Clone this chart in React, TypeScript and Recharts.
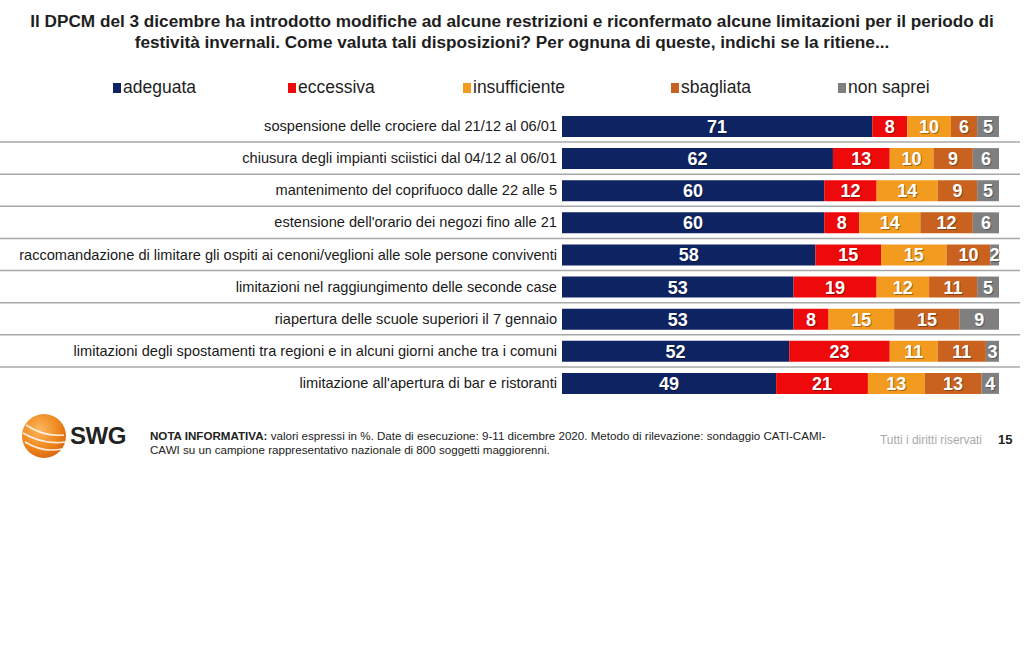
import React from 'react';
import { BarChart, Bar, XAxis, YAxis, LabelList } from 'recharts';

const categories = [
  'sospensione delle crociere dal 21/12 al 06/01',
  'chiusura degli impianti sciistici dal 04/12 al 06/01',
  'mantenimento del coprifuoco dalle 22 alle 5',
  "estensione dell'orario dei negozi fino alle 21",
  'raccomandazione di limitare gli ospiti ai cenoni/veglioni alle sole persone conviventi',
  'limitazioni nel raggiungimento delle seconde case',
  'riapertura delle scuole superiori il 7 gennaio',
  'limitazioni degli spostamenti tra regioni e in alcuni giorni anche tra i comuni',
  "limitazione all'apertura di bar e ristoranti",
];
const adeguata = [71, 62, 60, 60, 58, 53, 53, 52, 49];
const eccessiva = [8, 13, 12, 8, 15, 19, 8, 23, 21];
const insufficiente = [10, 10, 14, 14, 15, 12, 15, 11, 13];
const sbagliata = [6, 9, 9, 12, 10, 11, 15, 11, 13];
const nonSaprei = [5, 6, 5, 6, 2, 5, 9, 3, 4];

const seriesNames = ['adeguata', 'eccessiva', 'insufficiente', 'sbagliata', 'non saprei'];
const seriesKeys = ['adeguata', 'eccessiva', 'insufficiente', 'sbagliata', 'nonSaprei'];
const seriesColors = ['#0e2462', '#ee0a0a', '#f39b1f', '#c9621f', '#7f7f7f'];

const title1 = 'Il DPCM del 3 dicembre ha introdotto modifiche ad alcune restrizioni e riconfermato alcune limitazioni per il periodo di';
const title2 = 'festività invernali. Come valuta tali disposizioni? Per ognuna di queste, indichi se la ritiene...';

const data = categories.map((name, i) => ({
  name,
  adeguata: adeguata[i],
  eccessiva: eccessiva[i],
  insufficiente: insufficiente[i],
  sbagliata: sbagliata[i],
  nonSaprei: nonSaprei[i],
}));

const FONT = "'Liberation Sans', Arial, sans-serif";
const W = 1024;
const H = 649;
const M = { top: 110, right: 25, bottom: 250, left: 0 };
const BAND = (H - M.top - M.bottom) / categories.length;

const CategoryTick = (props: any) => {
  const { x, y, payload, index } = props;
  return (
    <g>
      <text x={x} y={y} dy={5} textAnchor="end" fontSize={14.6} fill="#1a1a1a" fontFamily={FONT}>
        {payload.value}
      </text>
      {index < categories.length - 1 && (
        <line x1={0} x2={1020} y1={y + BAND / 2} y2={y + BAND / 2} stroke="#a8a8a8" strokeWidth={1.5} />
      )}
    </g>
  );
};

const ValueLabel = (props: any) => {
  const { x, y, width, height, value } = props;
  const cx = x + width / 2;
  const cy = y + height / 2;
  return (
    <g>
      <text x={cx + 1} y={cy + 1} dy={6.5} textAnchor="middle" fontSize={18} fontWeight="bold" fill="rgba(0,0,0,0.35)" fontFamily={FONT}>
        {value}
      </text>
      <text x={cx} y={cy} dy={6.5} textAnchor="middle" fontSize={18} fontWeight="bold" fill="#ffffff" fontFamily={FONT}>
        {value}
      </text>
    </g>
  );
};

const legendLeft = [113, 288, 463, 671, 838];

const Logo = () => (
  <svg width={52} height={52} style={{ position: 'absolute', left: 18, top: 410 }}>
    <defs>
      <radialGradient id="lg" cx="40%" cy="35%" r="70%">
        <stop offset="0%" stopColor="#fbb860" />
        <stop offset="60%" stopColor="#f0891f" />
        <stop offset="100%" stopColor="#d9650f" />
      </radialGradient>
    </defs>
    <circle cx={26} cy={26} r={22} fill="url(#lg)" />
    <path d="M8 15 Q 26 27 46 25" stroke="#fff" strokeWidth={1.6} fill="none" opacity={0.85} />
    <path d="M5 23 Q 25 35 47 32" stroke="#fff" strokeWidth={1.6} fill="none" opacity={0.85} />
    <path d="M7 32 Q 25 43 44 39" stroke="#fff" strokeWidth={1.6} fill="none" opacity={0.85} />
  </svg>
);

export default function App() {
  return (
    <div style={{ position: 'absolute', left: 0, top: 0, width: W, height: H, background: '#fff', fontFamily: FONT }}>
      <div style={{ position: 'absolute', left: 0, top: 11, width: W, textAlign: 'center', fontWeight: 'bold', fontSize: 17.2, lineHeight: '21px', color: '#1e1e1e', whiteSpace: 'nowrap' }}>
        <div>{title1}</div>
        <div>{title2}</div>
      </div>
      {seriesNames.map((n, i) => (
        <div key={n} style={{ position: 'absolute', left: legendLeft[i], top: 76, fontSize: 17.5, color: '#1e1e1e', whiteSpace: 'nowrap', lineHeight: '22px' }}>
          <span style={{ display: 'inline-block', width: 8, height: 10, background: seriesColors[i], marginRight: 2, verticalAlign: '0px' }} />
          {n}
        </div>
      ))}
      <BarChart width={W} height={H} data={data} layout="vertical" margin={M} barSize={21}>
        <XAxis type="number" domain={[0, 100]} hide />
        <YAxis
          type="category"
          dataKey="name"
          width={562}
          axisLine={false}
          tickLine={false}
          tickSize={0}
          tickMargin={5}
          interval={0}
          tick={<CategoryTick />}
        />
        {seriesKeys.map((k, i) => (
          <Bar key={k} dataKey={k} name={seriesNames[i]} stackId="a" fill={seriesColors[i]} isAnimationActive={false}>
            <LabelList dataKey={k} content={<ValueLabel />} />
          </Bar>
        ))}
      </BarChart>
      <Logo />
      <div style={{ position: 'absolute', left: 70, top: 422, fontSize: 24, fontWeight: 'bold', color: '#222', letterSpacing: -0.5 }}>SWG</div>
      <div style={{ position: 'absolute', left: 150, top: 429, fontSize: 11.6, lineHeight: '13.5px', color: '#222', whiteSpace: 'nowrap' }}>
        <div><b>NOTA INFORMATIVA:</b> valori espressi in %. Date di esecuzione: 9-11 dicembre 2020. Metodo di rilevazione: sondaggio CATI-CAMI-</div>
        <div>CAWI su un campione rappresentativo nazionale di 800 soggetti maggiorenni.</div>
      </div>
      <div style={{ position: 'absolute', left: 880, top: 433, fontSize: 11.9, color: '#aaaaaa', whiteSpace: 'nowrap' }}>Tutti i diritti riservati</div>
      <div style={{ position: 'absolute', left: 998, top: 432, fontSize: 13, fontWeight: 'bold', color: '#222' }}>15</div>
    </div>
  );
}
